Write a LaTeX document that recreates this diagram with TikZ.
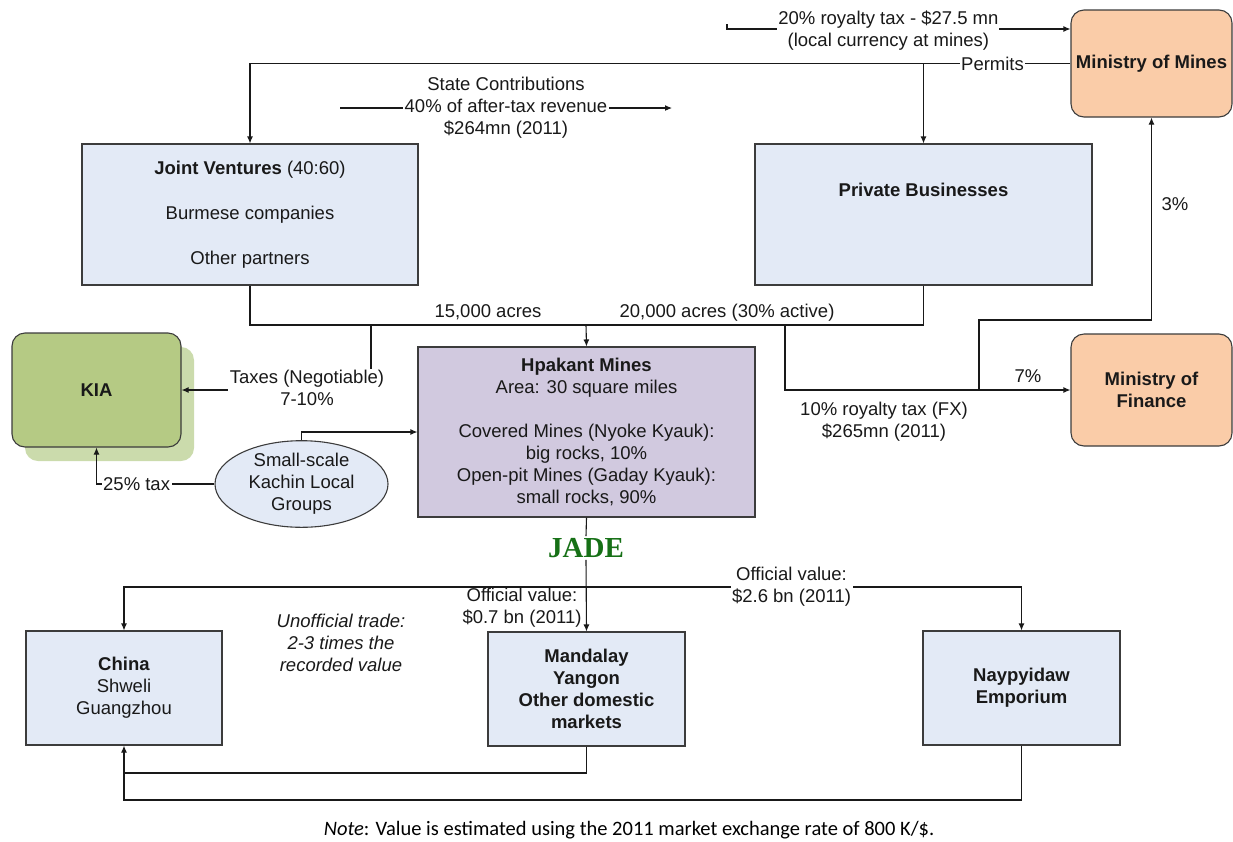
\documentclass[tikz,border=0pt]{standalone}
\usepackage{fontspec}
\setmainfont{Liberation Sans}
\newfontfamily\notefont{Carlito}
\newfontfamily\jadefont{Liberation Serif}
\usetikzlibrary{arrows.meta,shapes.geometric,shadows}
\definecolor{bluefill}{RGB}{227,234,246}
\definecolor{lavfill}{RGB}{209,201,223}
\definecolor{peachfill}{RGB}{250,204,168}
\definecolor{kiafill}{RGB}{181,202,132}
\definecolor{kiashadow}{RGB}{203,219,172}
\definecolor{jadegreen}{RGB}{22,112,22}
\definecolor{boxline}{RGB}{60,60,60}
\definecolor{conline}{RGB}{25,25,25}
\definecolor{txt}{RGB}{25,25,25}
\begin{document}
\begin{tikzpicture}[x=1pt,y=-1pt,
  every node/.style={font=\fontsize{18.5}{22}\selectfont, text=txt, align=center},
  box/.style={draw=boxline, line width=1.1pt, inner sep=0pt},
  bluebox/.style={box, fill=bluefill},
  peachbox/.style={box, fill=peachfill, rounded corners=13pt},
  line/.style={draw=conline, line width=1.1pt},
  arr/.style={line, -{Latex[length=7pt,width=6pt]}},
  lbl/.style={fill=white, inner sep=1.5pt},
  plain/.style={inner sep=1pt}]
\useasboundingbox (0,0) rectangle (1233,841);

% boxes
\node[bluebox, minimum width=336pt, minimum height=141pt] (JV) at (250,214.5)
  {\textbf{Joint Ventures} (40:60)\\[23pt]Burmese companies\\[23pt]Other partners};
\node[bluebox, minimum width=337pt, minimum height=141pt] (PB) at (923.5,214.5)
  {\textbf{Private Businesses}\\[28pt]\mbox{}};
\node[peachbox, minimum width=161pt, minimum height=107pt] (MoM) at (1151.5,63.5)
  {\textbf{Ministry of Mines}};
\node[peachbox, minimum width=161pt, minimum height=112pt] (MoF) at (1151.5,390)
  {\textbf{Ministry of}\\\textbf{Finance}};
\node[box, fill=kiafill, rounded corners=13pt, minimum width=169pt, minimum height=114pt,
  drop shadow={shadow xshift=13pt, shadow yshift=-14pt, fill=kiashadow, opacity=1}] (KIA) at (96.5,390)
  {\textbf{KIA}};
\node[box, fill=lavfill, minimum width=337pt, minimum height=170pt] (Hp) at (586.5,432)
  {\textbf{Hpakant Mines}\\Area: 30 square miles\\ \mbox{}\\Covered Mines (Nyoke Kyauk):\\big rocks, 10\%\\Open-pit Mines (Gaday Kyauk):\\small rocks, 90\%};
\node[box, fill=bluefill, ellipse, minimum width=173pt, minimum height=74pt] (ell) at (301.5,484)
  {Small-scale\\Kachin Local\\Groups};
\node[inner sep=2pt, font=\jadefont\bfseries\fontsize{29}{30}\selectfont, text=jadegreen] (jade) at (586,548) {JADE};
\node[bluebox, minimum width=196pt, minimum height=114pt] (China) at (124,688)
  {\textbf{China}\\Shweli\\Guangzhou};
\node[bluebox, minimum width=197pt, minimum height=114pt] (Man) at (586.5,689)
  {\textbf{Mandalay}\\\textbf{Yangon}\\\textbf{Other domestic}\\\textbf{markets}};
\node[bluebox, minimum width=197pt, minimum height=114pt] (Nay) at (1021.5,688)
  {\textbf{Naypyidaw}\\\textbf{Emporium}};

% coordinates for free ends and junctions
\coordinate (r20a) at (727,24);
\coordinate (r20b) at (727,29);
\coordinate (sc1) at (340,108);
\coordinate (sc2) at (672,108);
\coordinate (hub) at (586,325);
\coordinate (tx) at (371,325);
\coordinate (fx) at (785,325);
\coordinate (br) at (979,390);
\coordinate (dist) at (586,587);

% permits
\draw[arr] (MoM.west) -- node[lbl, pos=0.095] (permits) {Permits} (JV.north |- MoM.west) -- (JV.north);
\draw[arr] (PB.north |- MoM.west) -- (PB.north);

% 20% royalty tax
\draw[arr] (r20a) -- (r20b) -- node[lbl, pos=0.47, inner sep=1pt, yshift=-1.5pt] (roy20) {20\% royalty tax - \$27.5 mn\\(local currency at mines)} (r20b -| MoM.west);

% state contributions
\draw[arr] (sc1) -- node[lbl] (state) {State Contributions\\40\% of after-tax revenue\\\$264mn (2011)} (sc2);

% acres
\draw[line] (JV.south) |- (hub);
\draw[line] (PB.south) |- (hub);
\draw[arr] (hub) -- (Hp.north);
\node[plain, anchor=base] (a15) at (488,317) {15,000 acres};
\node[plain, anchor=base] (a20) at (727,317) {20,000 acres (30\% active)};

% taxes to KIA
\draw[arr] (tx) |- (KIA.east);
\node[lbl] (taxlbl) at (307,388) {Taxes (Negotiable)\\7-10\%};

% royalty FX to Ministry of Finance
\draw[arr] (fx) |- (MoF.west);
\node[plain] (fxlbl) at (884,422) {10\% royalty tax (FX)\\\$265mn (2011)};
\node[plain] (p7) at (1028,376) {7\%};
\draw[arr] (br) -- (979,320) -| (MoM.south);
\node[plain] (p3) at (1175,204) {3\%};

% small-scale groups
\draw[arr] (ell.north) |- (Hp.west);
\draw[arr] (ell.west) -| node[lbl, pos=0.33] (t25) {25\% tax} (KIA.south);

% jade flow
\draw[line] (Hp.south) -- (jade.north);
\draw[arr] (jade.south) -- (Man.north);
\draw[arr] (dist) -| (China.north);
\draw[arr] (dist) -| node[lbl, pos=0.236] (ov26) {Official value:\\\$2.6 bn (2011)} (Nay.north);
\node[plain] (ov07) at (522,608) {Official value:\\\$0.7 bn (2011)};
\node[plain, font=\itshape\fontsize{18.5}{22}\selectfont] (unoff) at (341,643) {Unofficial trade:\\2-3 times the\\recorded value};

% return flows to China
\draw[line] (Man.south) |- (124,773);
\draw[arr] (Nay.south) |- (124,800) -- (China.south);

% note
\node[plain, font=\notefont\fontsize{20.5}{24}\selectfont, text=black] (note) at (629,830)
  {\textit{Note}: Value is estimated using the 2011 market exchange rate of 800 K/\$.};
\end{tikzpicture}
\end{document}
